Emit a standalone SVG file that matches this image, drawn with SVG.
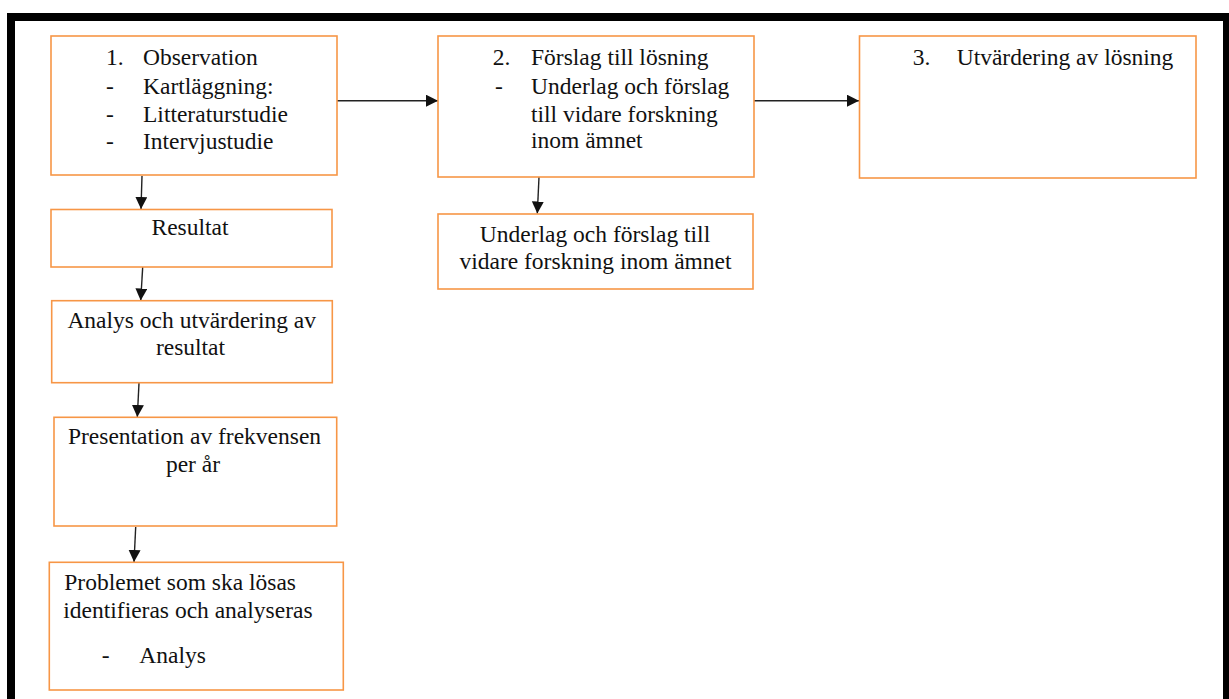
<svg xmlns="http://www.w3.org/2000/svg" width="1229" height="699" viewBox="0 0 1229 699">
<style>
.box{fill:#fff;stroke:#F79646;stroke-width:1.6}
.t{font-family:'Liberation Serif','Times New Roman',Tinos,'DejaVu Serif',serif;font-size:23.5px;fill:#111}
.c{text-anchor:middle}
.ln{stroke:#222;stroke-width:1.4;fill:none;marker-end:url(#ah)}
</style>
<defs>
<marker id="ah" markerUnits="userSpaceOnUse" markerWidth="13" markerHeight="13" refX="12" refY="6" orient="auto">
<path d="M0,0 L12,6 L0,12 z" fill="#111"/>
</marker>
</defs>
<rect x="0" y="0" width="1229" height="699" fill="#fff"/>
<rect x="11" y="17" width="1216" height="700" fill="none" stroke="#000" stroke-width="8"/>
<g id="connectors">
<line class="ln" x1="337" y1="100.7" x2="438" y2="100.7"/>
<line class="ln" x1="754" y1="100.7" x2="859" y2="100.7"/>
<line class="ln" x1="142" y1="176" x2="141" y2="209"/>
<line class="ln" x1="142.7" y1="267" x2="140.7" y2="300.5"/>
<line class="ln" x1="139" y1="383" x2="137.3" y2="417"/>
<line class="ln" x1="135.7" y1="527" x2="134" y2="562"/>
<line class="ln" x1="539" y1="177" x2="537.3" y2="213.5"/>
</g>
<g id="n1" font-family="Liberation Serif, serif">
<rect class="box" x="51" y="36" width="286" height="139"/>
<text class="t" x="106" y="65">1.</text><text class="t" x="143" y="65">Observation</text>
<text class="t" x="106" y="94">-</text><text class="t" x="143" y="94">Kartläggning:</text>
<text class="t" x="106" y="122">-</text><text class="t" x="143" y="122">Litteraturstudie</text>
<text class="t" x="106" y="149">-</text><text class="t" x="143" y="149">Intervjustudie</text>
</g>
<g id="n2">
<rect class="box" x="438" y="36" width="316" height="141"/>
<text class="t" x="492.7" y="65">2.</text><text class="t" x="531" y="65">Förslag till lösning</text>
<text class="t" x="495" y="94">-</text><text class="t" x="531" y="94">Underlag och förslag</text>
<text class="t" x="531" y="121.7">till vidare forskning</text>
<text class="t" x="531" y="148.3">inom ämnet</text>
</g>
<g id="n3">
<rect class="box" x="859.5" y="36" width="336.5" height="142"/>
<text class="t" x="912.7" y="65">3.</text><text class="t" x="956.7" y="65">Utvärdering av lösning</text>
</g>
<g id="n-resultat">
<rect class="box" x="51" y="209.5" width="281" height="57.5"/>
<text class="t c" x="190" y="235">Resultat</text>
</g>
<g id="n-underlag">
<rect class="box" x="438" y="214" width="315" height="75"/>
<text class="t c" x="595" y="241.7">Underlag och förslag till</text>
<text class="t c" x="595.5" y="269">vidare forskning inom ämnet</text>
</g>
<g id="n-analys">
<rect class="box" x="51.7" y="300.7" width="280.6" height="82"/>
<text class="t c" x="191.7" y="328.3">Analys och utvärdering av</text>
<text class="t c" x="190.5" y="354.5">resultat</text>
</g>
<g id="n-presentation">
<rect class="box" x="54" y="417.3" width="282.7" height="108.7"/>
<text class="t c" x="194.5" y="444">Presentation av frekvensen</text>
<text class="t c" x="193" y="471.7">per år</text>
</g>
<g id="n-problemet">
<rect class="box" x="49.3" y="562.3" width="294" height="127.7"/>
<text class="t" x="64.3" y="590">Problemet som ska lösas</text>
<text class="t" x="63.3" y="618.3">identifieras och analyseras</text>
<text class="t" x="101.7" y="663.3">-</text><text class="t" x="139.3" y="663.3">Analys</text>
</g>
</svg>
